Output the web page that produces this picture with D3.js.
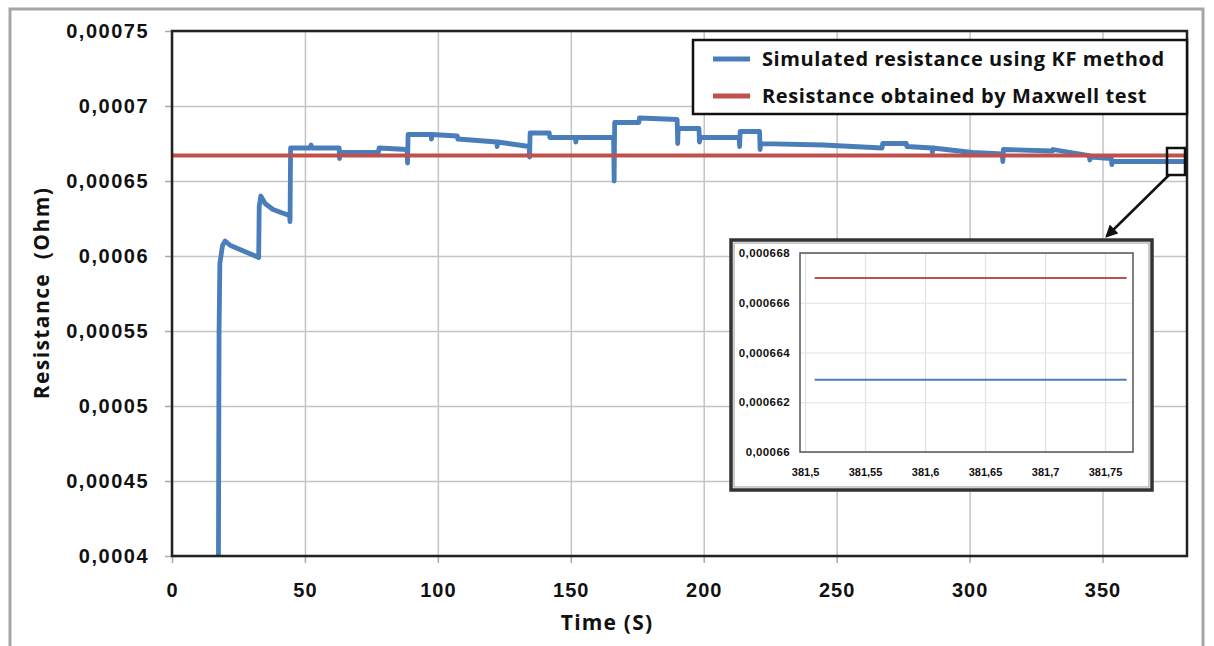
<!DOCTYPE html>
<html>
<head>
<meta charset="utf-8">
<script src="https://cdn.jsdelivr.net/npm/d3@7"></script>
<style>
  body { margin: 0; background: #fff; }
  svg { display: block; font-family: "Open Sans", sans-serif; }
  .tick text { font-weight: 700; fill: #111; }
</style>
</head>
<body>
<div id="viz"></div>
<script>
// simulated resistance (KF method)
const kfTime = [17.4, 17.7, 18.0, 19.0, 20.0, 22, 26, 30, 32.6, 32.8, 33.4, 35, 38, 41, 44.2, 44.4, 44.6,
  52.0, 52.3, 52.6, 62.9, 63.0, 63.2, 77.6, 77.9, 88.4, 88.6, 88.8, 97.5, 97.6, 97.8, 107.3, 107.5,
  122.2, 122.3, 122.5, 134.3, 134.5, 134.7, 141.9, 142.1, 151.8, 151.9, 152.1, 166.1, 166.3, 166.5,
  175.6, 175.8, 190.0, 190.2, 190.4, 198.2, 198.4, 198.6, 213.3, 213.5, 213.7, 221.0, 221.2, 221.4,
  245, 267.1, 267.3, 276.2, 276.4, 285.9, 286.0, 286.2, 301.1, 312.3, 312.5, 312.7, 331.1, 331.3,
  345.0, 345.2, 345.4, 353.3, 353.5, 353.7, 381.77];
const kfR = [0.00035, 0.00055, 0.000595, 0.000607, 0.00061, 0.000607, 0.000604, 0.000601, 0.000599, 0.000633, 0.00064, 0.000635, 0.000631, 0.000629, 0.000627, 0.000623, 0.000672,
  0.000672, 0.000674, 0.000672, 0.000672, 0.000665, 0.000669, 0.000669, 0.000672, 0.000671, 0.000662, 0.000681, 0.000681, 0.000678, 0.000681, 0.000680, 0.000678,
  0.000676, 0.000673, 0.000676, 0.000673, 0.000666, 0.000682, 0.000682, 0.000679, 0.000679, 0.000676, 0.000679, 0.000679, 0.000650, 0.000689,
  0.000689, 0.000692, 0.000691, 0.000675, 0.000685, 0.000685, 0.000676, 0.000679, 0.000679, 0.000673, 0.000683, 0.000683, 0.000671, 0.000675,
  0.000674, 0.000672, 0.000675, 0.000675, 0.000673, 0.000672, 0.000669, 0.000672, 0.000669, 0.000668, 0.000663, 0.000671, 0.000670, 0.000671,
  0.000667, 0.000664, 0.000666, 0.000665, 0.000661, 0.000663, 0.000663];
// resistance from the Maxwell test
const maxTime = [0, 381.77];
const maxR = [0.000667, 0.000667];

const xTicks = [0, 50, 100, 150, 200, 250, 300, 350];
const yTicks = [0.0004, 0.00045, 0.0005, 0.00055, 0.0006, 0.00065, 0.0007, 0.00075];

// zoomed inset at the end of the run
const insetTime = [381.508, 381.768];
const insetKfR = [0.0006629, 0.0006629];
const insetMaxR = [0.000667, 0.000667];
const insetXTicks = [381.5, 381.55, 381.6, 381.65, 381.7, 381.75];
const insetYTicks = [0.00066, 0.000662, 0.000664, 0.000666, 0.000668];

const legendNames = ["Simulated resistance using KF method", "Resistance obtained by Maxwell test"];
const colors = ["#4a7ebb", "#c0504d"];

const W = 1214, H = 646;
const margin = {top: 31, right: 27, bottom: 90, left: 172},
    width = W - margin.left - margin.right,
    height = H - margin.top - margin.bottom;

const fmt = d3.formatLocale({decimal: ",", thousands: ".", grouping: [3], currency: ["", ""]}).format("~f");

const root = d3.select("#viz").append("svg")
  .attr("width", W).attr("height", H);

// outer chart frame
root.append("rect")
  .attr("x", 10).attr("y", 9).attr("width", 1193).attr("height", 660)
  .attr("fill", "none").attr("stroke", "#a6a6a6").attr("stroke-width", 3);

const svg = root.append("g")
  .attr("transform", `translate(${margin.left},${margin.top})`);

const x = d3.scaleLinear().domain([0, 381.77]).range([0, width]);
const y = d3.scaleLinear().domain([0.0004, 0.00075]).range([height, 0]);

// grid
svg.append("g")
  .attr("transform", `translate(0,${height})`)
  .call(d3.axisBottom(x).tickValues(xTicks).tickSize(-height).tickFormat(""))
  .call(g => g.select(".domain").remove())
  .call(g => g.selectAll("line").attr("stroke", "#c4c4c4").attr("stroke-width", 1.5));
svg.append("g")
  .call(d3.axisLeft(y).tickValues(yTicks).tickSize(-width).tickFormat(""))
  .call(g => g.select(".domain").remove())
  .call(g => g.selectAll("line").attr("stroke", "#c4c4c4").attr("stroke-width", 1.5));

// axes
svg.append("g")
  .attr("transform", `translate(0,${height})`)
  .call(d3.axisBottom(x).tickValues(xTicks).tickSize(7).tickPadding(20).tickFormat(d => d))
  .call(g => g.select(".domain").remove())
  .call(g => g.selectAll("line").attr("stroke", "#aaa").attr("stroke-width", 1.5))
  .call(g => g.selectAll("text").attr("font-size", 20).attr("letter-spacing", 1));
svg.append("g")
  .call(d3.axisLeft(y).tickValues(yTicks).tickSize(7).tickPadding(16).tickFormat(fmt))
  .call(g => g.select(".domain").remove())
  .call(g => g.selectAll("line").attr("stroke", "#aaa").attr("stroke-width", 1.5))
  .call(g => g.selectAll("text").attr("font-size", 20).attr("letter-spacing", 1.5));

svg.append("clipPath").attr("id", "plotclip")
  .append("rect").attr("width", width).attr("height", height);

const line = d3.line().x(d => x(d[0])).y(d => y(d[1]));

svg.append("path")
  .datum(kfTime.map((t, i) => [t, kfR[i]]))
  .attr("clip-path", "url(#plotclip)")
  .attr("fill", "none").attr("stroke", colors[0]).attr("stroke-width", 4.8)
  .attr("stroke-linejoin", "round").attr("stroke-linecap", "round")
  .attr("d", line);

svg.append("path")
  .datum(maxTime.map((t, i) => [t, maxR[i]]))
  .attr("fill", "none").attr("stroke", colors[1]).attr("stroke-width", 4)
  .attr("d", line);

// plot border
svg.append("rect")
  .attr("width", width).attr("height", height)
  .attr("fill", "none").attr("stroke", "#222").attr("stroke-width", 2.5);

// axis titles
svg.append("text")
  .attr("transform", `translate(${42 - margin.left},${293 - margin.top}) rotate(-90)`)
  .attr("text-anchor", "middle").attr("dy", "0.35em")
  .attr("font-size", 21).attr("font-weight", 700).attr("fill", "#111")
  .attr("letter-spacing", 1.4)
  .attr("xml:space", "preserve")
  .text("Resistance  (Ohm)");
svg.append("text")
  .attr("x", 607 - margin.left).attr("y", 630 - margin.top)
  .attr("text-anchor", "middle")
  .attr("font-size", 21).attr("font-weight", 700).attr("fill", "#111")
  .attr("letter-spacing", 1.2)
  .text("Time (S)");

// legend
const lg = root.append("g").attr("transform", "translate(693,40)");
lg.append("rect").attr("width", 494).attr("height", 74)
  .attr("fill", "#fff").attr("stroke", "#111").attr("stroke-width", 2.5);
legendNames.forEach((name, i) => {
  const ly = 19 + i * 37;
  lg.append("line").attr("x1", 20).attr("x2", 57).attr("y1", ly).attr("y2", ly)
    .attr("stroke", colors[i]).attr("stroke-width", 5);
  lg.append("text").attr("x", 69).attr("y", ly).attr("dy", "0.35em")
    .attr("font-size", 20).attr("font-weight", 700).attr("fill", "#111")
    .attr("letter-spacing", 0.6)
    .text(name);
});

// small marker square + arrow to inset
root.append("defs").append("marker")
  .attr("id", "arrow").attr("viewBox", "0 0 10 10").attr("refX", 8).attr("refY", 5)
  .attr("markerWidth", 5).attr("markerHeight", 5).attr("orient", "auto")
  .append("path").attr("d", "M0,0L10,5L0,10Z").attr("fill", "#111");
root.append("rect").attr("x", 1167).attr("y", 148).attr("width", 18).attr("height", 27)
  .attr("fill", "none").attr("stroke", "#111").attr("stroke-width", 2.5);
root.append("line").attr("x1", 1169).attr("y1", 175).attr("x2", 1107).attr("y2", 236)
  .attr("stroke", "#111").attr("stroke-width", 2.5).attr("marker-end", "url(#arrow)");

// inset chart
const inset = root.append("g").attr("transform", "translate(731,240)");
inset.append("rect").attr("width", 421).attr("height", 250)
  .attr("fill", "#fff").attr("stroke", "#333").attr("stroke-width", 3.5);
inset.append("rect").attr("x", 3).attr("y", 3).attr("width", 415).attr("height", 244)
  .attr("fill", "none").attr("stroke", "#999").attr("stroke-width", 1);

const ig = inset.append("g").attr("transform", "translate(69,13)");
const iw = 333, ih = 199;
const ix = d3.scaleLinear().domain([381.4958, 381.7733]).range([0, iw]);
const iy = d3.scaleLinear().domain([0.00066, 0.000668]).range([ih, 0]);

ig.append("g").attr("transform", `translate(0,${ih})`)
  .call(d3.axisBottom(ix).tickValues(insetXTicks).tickSize(-ih).tickFormat(""))
  .call(g => g.select(".domain").remove())
  .call(g => g.selectAll("line").attr("stroke", "#e2e2e2").attr("stroke-width", 1.2));
ig.append("g")
  .call(d3.axisLeft(iy).tickValues(insetYTicks).tickSize(-iw).tickFormat(""))
  .call(g => g.select(".domain").remove())
  .call(g => g.selectAll("line").attr("stroke", "#e2e2e2").attr("stroke-width", 1.2));

ig.append("g").attr("transform", `translate(0,${ih})`)
  .call(d3.axisBottom(ix).tickValues(insetXTicks).tickSize(0).tickPadding(16).tickFormat(fmt))
  .call(g => g.select(".domain").remove())
  .call(g => g.selectAll("text").attr("font-size", 11));
ig.append("g")
  .call(d3.axisLeft(iy).tickValues(insetYTicks).tickSize(0).tickPadding(10).tickFormat(fmt))
  .call(g => g.select(".domain").remove())
  .call(g => g.selectAll("text").attr("font-size", 11.5).attr("letter-spacing", 0.4));

const iline = d3.line().x(d => ix(d[0])).y(d => iy(d[1]));
ig.append("path").datum(insetTime.map((t, i) => [t, insetMaxR[i]]))
  .attr("fill", "none").attr("stroke", colors[1]).attr("stroke-width", 2).attr("d", iline);
ig.append("path").datum(insetTime.map((t, i) => [t, insetKfR[i]]))
  .attr("fill", "none").attr("stroke", colors[0]).attr("stroke-width", 2).attr("d", iline);

ig.append("rect").attr("width", iw).attr("height", ih)
  .attr("fill", "none").attr("stroke", "#555").attr("stroke-width", 1.5);
</script>
</body>
</html>
